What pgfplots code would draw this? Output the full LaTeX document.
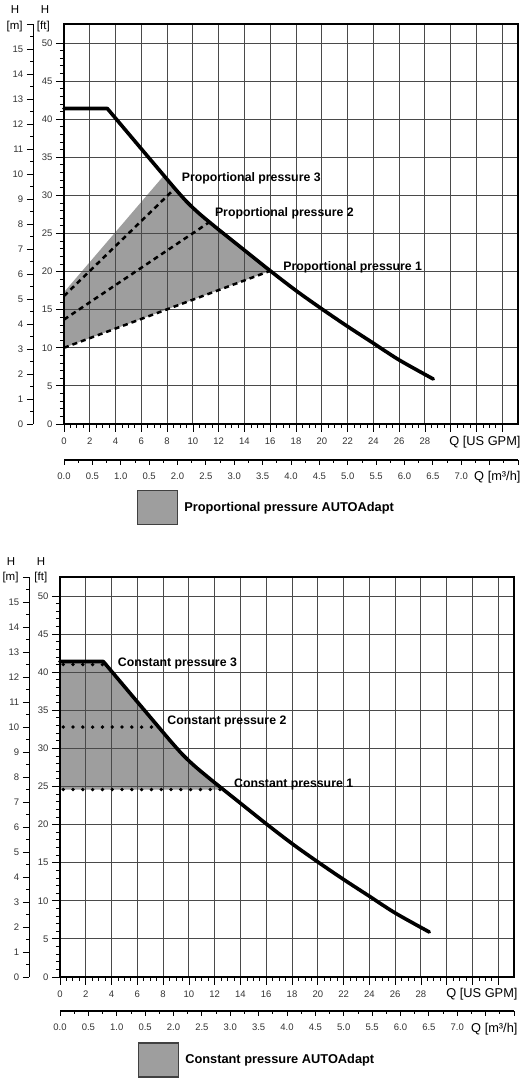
\documentclass[border=0pt]{standalone}
\usepackage{fontspec}
\setmainfont{Liberation Sans}
\usepackage{pgfplots}
\pgfplotsset{compat=1.18}

\definecolor{fillgray}{HTML}{9E9E9E}
\definecolor{gridc}{HTML}{4A4A4A}
\definecolor{tickc}{HTML}{333333}

% pump curve, Q in US GPM, H in ft: straight part up to the knee ...
\pgfplotstableread{
q h
0 41.4
3.36 41.4
6 36.1
8.5 31.1
}\pumpstraight
% ... and the bent part after it
\pgfplotstableread{
q h
8.5 31.1
9.5 29.2
10.5 27.6
12 25.5
14 22.8
16 20.1
18 17.5
20 15.1
22 12.8
24 10.6
26 8.4
28.65 5.9
}\pumpbent

\tikzset{
  tickfont/.style={font=\fontsize{9.5}{11}\selectfont, text=tickc},
  lblfont/.style={font=\bfseries\fontsize{12.3}{14}\selectfont},
  pumpline/.style={black, line width=3.6pt, line join=round, line cap=round},
}

\pgfplotsset{
  frame/.style={
    scale only axis, width=454pt, height=400pt,
    xmin=0, xmax=35.22, ymin=0, ymax=52.49, clip=false,
  },
  mainq/.style={
    frame,
    axis line style={line width=1.6pt, black},
    grid=major, major grid style={gridc, line width=0.9pt},
    xtick={0,2,...,34},
    xticklabels={0,2,4,6,8,10,12,14,16,18,20,22,24,26,28,{},{},{}},
    minor x tick num=3,
    ytick={0,5,...,50}, minor y tick num=4,
    tick align=outside, tick pos=left,
    major tick length=8pt, minor tick length=4pt,
    every tick/.style={black, line width=0.8pt},
    tick label style={tickfont},
    xticklabel style={yshift=-2pt},
    /pgf/number format/assume math mode=true,
  },
  maxis/.style={
    scale only axis, width=10pt, height=400pt,
    xmin=0, xmax=1, ymin=0, ymax=16,
    axis x line*=bottom, axis y line*=left,
    x axis line style={draw=none}, xtick=\empty,
    y axis line style={line width=1.3pt, black},
    ytick={0,1,...,16},
    yticklabels={0,1,2,3,4,5,6,7,8,9,10,11,12,13,14,15,{}},
    minor y tick num=1,
    tick align=outside,
    major tick length=6.5pt, minor tick length=3.3pt,
    every tick/.style={black, line width=0.8pt},
    tick label style={tickfont},
  },
  m3axis/.style={
    scale only axis, width=454pt, height=10pt,
    xmin=0, xmax=8, ymin=0, ymax=1,
    axis x line*=bottom, axis y line*=left,
    y axis line style={draw=none}, ytick=\empty,
    x axis line style={line width=1.3pt, black},
    xtick={0,0.5,...,8},
    xticklabels={0.0,0.5,1.0,0.5,2.0,2.5,3.0,3.5,4.0,4.5,5.0,5.5,6.0,6.5,7.0,{}},
    minor x tick num=1,
    tick align=outside,
    major tick length=5pt, minor tick length=2.7pt,
    every tick/.style={black, line width=0.8pt},
    tick label style={tickfont},
    xticklabel style={yshift=-4pt},
  },
  boxlegend/.style={
    legend style={draw=none, fill=none, inner sep=0pt, outer sep=0pt,
      font=\bfseries\fontsize{12.8}{15}\selectfont,
      nodes={inner sep=2pt}},
    legend cell align=left,
  },
}

\begin{document}
\begin{tikzpicture}
\useasboundingbox (0,0) rectangle (529pt,1078pt);

%% ---------------- panel 1: proportional pressure ----------------
% shaded band first, so the grid of the next axis lies over it
\begin{axis}[frame, hide axis, at={(64pt,654pt)}, anchor=south west]
\addplot[fill=fillgray, draw=none] coordinates {
  (0,10) (16,20.1) (14,22.8) (12,25.5) (10.5,27.6) (9.5,29.2) (8.5,31.1) (7.75,32.6) (0,17.3) (0,10)};
\end{axis}

\begin{axis}[mainq, at={(64pt,654pt)}, anchor=south west, boxlegend,
  legend style={at={(axis description cs:0.161,-0.209)}, anchor=west}]
\addplot[black, line width=2.5pt, dash pattern=on 5pt off 4pt, forget plot] coordinates {(0,10) (16,20.1)};
\addplot[black, line width=2.5pt, dash pattern=on 5pt off 4pt, forget plot] coordinates {(0,13.7) (11.2,26.4)};
\addplot[black, line width=2.5pt, dash pattern=on 5pt off 4pt, forget plot] coordinates {(0,16.8) (8.6,30.9)};
\addplot[pumpline, forget plot] table[x=q, y=h] {\pumpstraight};
\addplot[pumpline, smooth, tension=0.5, forget plot] table[x=q, y=h] {\pumpbent};
\addlegendimage{legend image code/.code={\draw[fill=fillgray, draw=black!75, line width=1.2pt] (0pt,-17pt) rectangle (40pt,17pt);}}
\addlegendentry{\hspace{4pt}Proportional pressure AUTOAdapt}
\node[lblfont, anchor=west, inner sep=0pt] at (axis cs:9.13,32.3) {Proportional pressure 3};
\node[lblfont, anchor=west, inner sep=0pt] at (axis cs:11.7,27.7) {Proportional pressure 2};
\node[lblfont, anchor=west, inner sep=0pt] at (axis cs:17.0,20.5) {Proportional pressure 1};
\end{axis}

\begin{axis}[maxis, at={(33.3pt,654pt)}, anchor=south west]
\addplot[draw=none] coordinates {(0,0) (1,16)};
\end{axis}

\begin{axis}[m3axis, at={(64pt,618pt)}, anchor=south west]
\addplot[draw=none] coordinates {(0,0) (8,1)};
\end{axis}

\node[font=\fontsize{11.5}{13}\selectfont] at (15pt,1068.7pt) {H};
\node[font=\fontsize{11.5}{13}\selectfont] at (45pt,1068.7pt) {H};
\node[font=\fontsize{11.5}{13}\selectfont] at (14.7pt,1051.3pt) {[m]};
\node[font=\fontsize{11.5}{13}\selectfont] at (43.3pt,1051.3pt) {[ft]};
\node[anchor=east, font=\fontsize{12.8}{14}\selectfont] at (524pt,635.3pt) {Q [US GPM]};
\node[anchor=east, font=\fontsize{12.8}{14}\selectfont] at (524pt,600.7pt) {Q [m³/h]};

%% ---------------- panel 2: constant pressure ----------------
\begin{axis}[frame, hide axis, at={(60pt,101pt)}, anchor=south west]
\addplot[fill=fillgray, draw=none] coordinates {
  (0,24.6) (0,41.4) (3.36,41.4) (6,36.1) (8.5,31.1) (9.5,29.2) (10.5,27.6) (12,25.5) (12.65,24.6) (0,24.6)};
\end{axis}

\begin{axis}[mainq, at={(60pt,101pt)}, anchor=south west, boxlegend,
  legend style={at={(axis description cs:0.172,-0.2075)}, anchor=west}]
\addplot[black, line width=3.8pt, line cap=round, dash pattern=on 0pt off 9.8pt, forget plot] coordinates {(0.25,41.0) (3.4,41.0)};
\addplot[black, line width=3.8pt, line cap=round, dash pattern=on 0pt off 9.8pt, forget plot] coordinates {(0.25,32.8) (7.6,32.8)};
\addplot[black, line width=3.8pt, line cap=round, dash pattern=on 0pt off 9.8pt, forget plot] coordinates {(0.25,24.6) (12.5,24.6)};
\addplot[pumpline, forget plot] table[x=q, y=h] {\pumpstraight};
\addplot[pumpline, smooth, tension=0.5, forget plot] table[x=q, y=h] {\pumpbent};
\addlegendimage{legend image code/.code={\draw[fill=fillgray, draw=black!75, line width=1.2pt] (0pt,-17pt) rectangle (40pt,17pt);}}
\addlegendentry{\hspace{4pt}Constant pressure AUTOAdapt}
\node[lblfont, anchor=west, inner sep=0pt] at (axis cs:4.48,41.1) {Constant pressure 3};
\node[lblfont, anchor=west, inner sep=0pt] at (axis cs:8.32,33.5) {Constant pressure 2};
\node[lblfont, anchor=west, inner sep=0pt] at (axis cs:13.5,25.2) {Constant pressure 1};
\end{axis}

\begin{axis}[maxis, at={(29.3pt,101pt)}, anchor=south west]
\addplot[draw=none] coordinates {(0,0) (1,16)};
\end{axis}

\begin{axis}[m3axis, at={(60pt,67pt)}, anchor=south west]
\addplot[draw=none] coordinates {(0,0) (8,1)};
\end{axis}

\node[font=\fontsize{11.5}{13}\selectfont] at (11pt,516.3pt) {H};
\node[font=\fontsize{11.5}{13}\selectfont] at (41pt,516.3pt) {H};
\node[font=\fontsize{11.5}{13}\selectfont] at (10.5pt,500.7pt) {[m]};
\node[font=\fontsize{11.5}{13}\selectfont] at (40.8pt,500.7pt) {[ft]};
\node[anchor=east, font=\fontsize{12.8}{14}\selectfont] at (521pt,83.7pt) {Q [US GPM]};
\node[anchor=east, font=\fontsize{12.8}{14}\selectfont] at (521pt,48.7pt) {Q [m³/h]};
\end{tikzpicture}
\end{document}
